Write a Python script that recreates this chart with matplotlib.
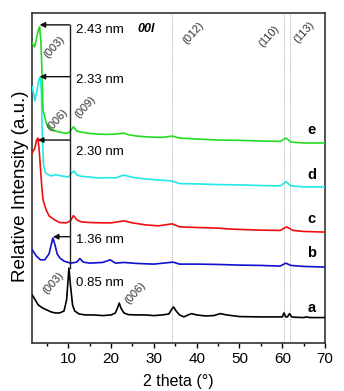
import matplotlib
matplotlib.use("Agg")
import matplotlib.pyplot as plt

plt.rcParams['font.family'] = ['Liberation Sans', 'DejaVu Sans']

# ---- data ----
x_a = [1.6, 3, 4, 5, 6, 7, 8, 9, 9.6, 9.9, 10.15, 10.5, 11.0, 11.5, 12.5, 14, 16, 18, 20, 21, 21.5, 21.9, 22.3, 23, 24,
       26, 28, 30, 32, 33.5, 34.2, 34.6, 35.2, 36, 37, 38, 38.8, 40, 42, 44, 45.5, 47, 50, 55, 58, 60, 60.4, 60.8, 61.2,
       61.7, 62.2, 63, 65, 65.6, 66.5, 68, 70]
y_a = [14.5, 11.5, 10.6, 10.0, 9.4, 9.1, 9.1, 9.7, 13.0, 18.2, 22.7, 17.6, 11.5, 9.7, 8.8, 8.5, 8.5, 8.3, 8.5, 9.1, 10.6,
       12.1, 10.6, 9.1, 8.6, 8.5, 8.5, 8.3, 8.5, 8.8, 10.3, 10.9, 9.7, 8.5, 7.9, 8.5, 8.9, 8.5, 8.2, 8.3, 8.9, 8.5, 8.0,
       7.9, 7.9, 7.9, 9.1, 7.9, 7.9, 8.9, 7.9, 7.8, 7.7, 7.9, 7.7, 7.7, 7.7]

x_b = [1.6, 2.5, 3.5, 4.5, 5.5, 6.0, 6.4, 6.9, 7.4, 8.0, 9, 10.5, 12, 12.7, 13.5, 15, 18, 19.8, 21, 23, 26, 30, 34.5, 36,
       40, 45, 50, 55, 59.5, 60.8, 62, 65, 70]
y_b = [28.2, 26.4, 25.2, 25.2, 27.0, 29.7, 31.8, 29.7, 27.0, 25.8, 24.8, 24.2, 24.5, 25.6, 24.5, 24.2, 24.4, 25.2, 24.2,
       24.4, 24.1, 23.9, 24.5, 23.9, 23.9, 23.8, 23.6, 23.5, 23.3, 24.2, 23.5, 23.2, 23.0]

x_c = [1.6, 2.2, 2.6, 2.9, 3.2, 3.5, 3.8, 4.1, 4.85, 5.5, 6.8, 8, 9.5, 10.5, 11.2, 12, 13, 15, 18, 20, 23, 25, 28, 31,
       34.3, 36, 40, 45, 48, 55, 59.5, 61, 62.5, 65, 70]
y_c = [57.6, 59.1, 61.5, 62.1, 58.5, 53.0, 47.5, 43.3, 40.3, 38.5, 37.3, 36.5, 36.4, 37.0, 38.6, 37.3, 36.7, 36.5, 36.4,
       36.4, 37.0, 36.4, 35.8, 35.5, 36.1, 35.2, 35.0, 34.8, 34.5, 34.2, 34.1, 35.2, 34.1, 33.8, 33.6]

x_d = [1.6, 2.2, 2.7, 3.1, 3.4, 3.7, 3.9, 4.2, 4.7, 6.0, 7.0, 8.5, 10.0, 10.8, 11.3, 12, 13, 15, 17, 19, 21, 23, 25, 28,
       31, 34.2, 36, 40, 45, 50, 55, 59.5, 60.9, 62, 65, 70]
y_d = [77.6, 73.3, 76.7, 79.7, 80.6, 76.7, 64.5, 53.9, 51.5, 50.6, 51.0, 50.6, 50.3, 51.5, 52.1, 50.9, 50.5, 50.3, 50.0,
       50.1, 50.0, 50.9, 50.2, 49.7, 49.4, 49.1, 48.3, 48.2, 48.0, 47.9, 47.7, 47.6, 48.9, 47.6, 47.3, 47.3]

x_e = [1.6, 2.1, 2.6, 3.0, 3.3, 3.6, 3.8, 4.1, 4.85, 5.6, 7, 9, 10, 10.8, 11.2, 12, 13, 15, 17, 19, 21, 23, 24, 26, 29,
       32, 34.3, 36, 40, 45, 50, 55, 59.5, 60.9, 62, 65, 70]
y_e = [90.9, 89.7, 92.4, 94.8, 95.8, 91.5, 84.0, 70.6, 66.7, 65.2, 64.2, 63.6, 63.6, 64.8, 65.5, 64.2, 63.9, 63.5, 63.3,
       63.2, 63.3, 63.6, 63.1, 62.7, 62.4, 62.3, 62.7, 62.1, 61.8, 61.5, 61.4, 61.2, 61.1, 62.1, 60.9, 60.6, 60.6]

series = [(x_a, y_a, '#000000', 'a', 10.6),
          (x_b, y_b, '#1010d0', 'b', 27.3),
          (x_c, y_c, '#ee1010', 'c', 37.6),
          (x_d, y_d, '#22e8e8', 'd', 50.9),
          (x_e, y_e, '#22dd22', 'e', 64.5)]

d_labels = ['2.43 nm', '2.33 nm', '2.30 nm', '1.36 nm', '0.85 nm']
d_label_y = [94.8, 79.7, 57.9, 31.2, 18.2]
arrow_y = [96.4, 80.7, 61.5, 32.2]
arrow_tip_x = [3.3, 3.3, 2.9, 6.4]
ref_lines = [34.3, 60.45, 61.8]

planes = [('(003)', 6.8, 89.6), ('(006)', 7.4, 67.6), ('(009)', 14.0, 71.6), ('(012)', 39.3, 93.8),
          ('(110)', 56.8, 92.8), ('(113)', 65.0, 94.3), ('(003)', 6.5, 18.2), ('(006)', 25.6, 15.2)]

# ---- figure ----
fig = plt.figure(figsize=(3.44, 3.91), dpi=100)
ax = fig.add_axes([0.094, 0.1228, 0.851, 0.844])

for xv in ref_lines:
    ax.axvline(xv, color='#aaaaaa', lw=0.7, ls=(0, (1, 1.2)), zorder=1)

for xs, ys, col, lab, ly in series:
    ax.plot(xs, ys, color=col, lw=1.2, zorder=3)
    ax.text(66.9, ly, lab, fontsize=10.5, fontweight='bold', ha='center', va='center')

# vertical line and arrows
ax.plot([10.3, 10.3], [arrow_y[0], 22.7], color='#222222', lw=1.0, zorder=4)
for ay, tx in zip(arrow_y, arrow_tip_x):
    ax.annotate('', xy=(tx, ay), xytext=(10.3, ay),
                arrowprops=dict(arrowstyle='-|>', color='#111111', lw=1.0, mutation_scale=8,
                                shrinkA=0, shrinkB=0), zorder=5)
for t, ty in zip(d_labels, d_label_y):
    ax.text(11.8, ty, t, fontsize=9.5, ha='left', va='center')

for t, px, py in planes:
    ax.text(px, py, t, fontsize=8, rotation=48, ha='center', va='center', color='#333333')

ax.text(28.3, 95.2, '00l', fontsize=9, fontstyle='italic', fontweight='bold', ha='center', va='center')

ax.set_xlim(1.6, 70)
ax.set_ylim(0, 100)
ax.set_yticks([])
ax.set_xticks([10, 20, 30, 40, 50, 60, 70])
ax.set_xticks([5, 15, 25, 35, 45, 55, 65], minor=True)
ax.tick_params(axis='x', which='major', direction='out', length=3.6, width=1.0, labelsize=11, pad=3)
ax.tick_params(axis='x', which='minor', direction='out', length=2.2, width=1.0)
for s in ax.spines.values():
    s.set_linewidth(1.2)
    s.set_color('#333333')
ax.set_xlabel('2 theta (°)', fontsize=11.5, va='center')
ax.xaxis.set_label_coords(0.5, -0.118)
ax.set_ylabel('Relative Intensity (a.u.)', fontsize=13.5, va='center')
ax.yaxis.set_label_coords(-0.04, 0.476)

fig.savefig('out.png', dpi=100)
